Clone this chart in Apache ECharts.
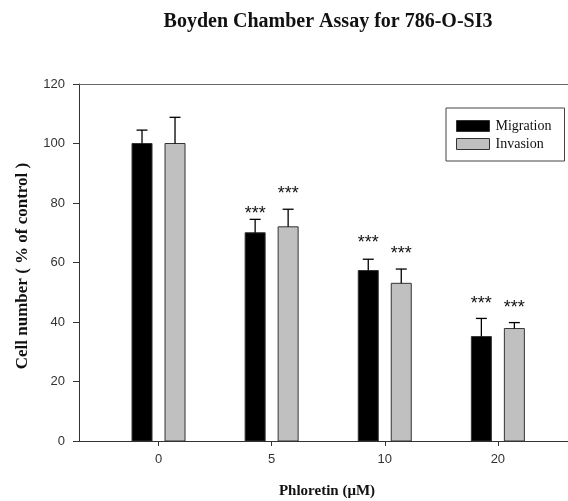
<!DOCTYPE html>
<html>
<head>
<meta charset="utf-8">
<style>
html,body{margin:0;padding:0;background:#fff;}
#chart{width:568px;height:501px;}
</style>
</head>
<body>
<div id="chart"></div>
<script src="https://cdn.jsdelivr.net/npm/echarts@6/dist/echarts.min.js"></script>
<script>
// data
var doseLabels = ['0', '5', '10', '20'];
var migration = [100, 70, 57.3, 35.1];
var migrationErr = [4.5, 4.5, 3.8, 6.1];
var invasion = [100, 72, 53, 37.8];
var invasionErr = [8.8, 5.9, 4.8, 2.0];
// height (in % of control) where the *** marks sit
var migrationStars = [null, 77.6, 67.9, 47.4];
var invasionStars = [null, 84.4, 64.1, 45.9];
var yTicks = [0, 20, 40, 60, 80, 100, 120];

function rows(means, errs, stars) {
    return means.map(function (m, i) {
        return [i, m, errs[i], stars[i] == null ? -1 : stars[i]];
    });
}

// bars + upper error bar + significance stars
function barRenderer(shift, fill) {
    return function (params, api) {
        var x = api.value(0);
        var top = api.coord([x, api.value(1)]);
        var base = api.coord([x, 0]);
        var errTop = api.coord([x, api.value(1) + api.value(2)]);
        var cx = top[0] + shift;
        var bw = 20;
        var kids = [{
            type: 'rect',
            shape: {x: cx - bw / 2, y: top[1], width: bw, height: base[1] - top[1]},
            style: {fill: fill, stroke: '#333', lineWidth: 1}
        }, {
            type: 'line',
            shape: {x1: cx, y1: top[1], x2: cx, y2: errTop[1]},
            style: {stroke: '#000', lineWidth: 1.3}
        }, {
            type: 'line',
            shape: {x1: cx - 5.5, y1: errTop[1], x2: cx + 5.5, y2: errTop[1]},
            style: {stroke: '#000', lineWidth: 1.3}
        }];
        var s = api.value(3);
        if (s >= 0) {
            var sp = api.coord([x, s]);
            kids.push({
                type: 'text',
                x: cx, y: sp[1] + 4,
                style: {
                    text: '***', fill: '#111',
                    font: '18px "Liberation Sans", Arial, sans-serif',
                    align: 'center', verticalAlign: 'middle'
                }
            });
        }
        return {type: 'group', children: kids};
    };
}

var chart = echarts.init(document.getElementById('chart'));

var option = {
    animation: false,
    backgroundColor: '#fff',
    grid: {left: 79, right: 0, top: 84, bottom: 60, outerBoundsMode: 'none'},
    legend: {
        orient: 'vertical',
        left: 446, top: 108,
        padding: [11, 13, 10, 10],
        itemGap: 4,
        itemWidth: 33, itemHeight: 11,
        icon: 'rect',
        borderColor: '#444', borderWidth: 1,
        backgroundColor: '#fff',
        itemStyle: {borderColor: '#333', borderWidth: 1},
        textStyle: {fontFamily: '"Liberation Serif", "Times New Roman", serif', fontSize: 14, color: '#111', padding: [0, 0, 0, 1]},
        data: ['Migration', 'Invasion']
    },
    xAxis: [{
        type: 'value',
        min: -0.703, max: 3.62,
        splitLine: {show: false},
        axisLine: {lineStyle: {color: '#333', width: 1}},
        axisTick: {length: 5, lineStyle: {color: '#333'}, customValues: [0, 1, 2, 3]},
        axisLabel: {
            customValues: [0, 1, 2, 3],
            margin: 12,
            fontSize: 13,
            color: '#333',
            fontFamily: '"Liberation Sans", Arial, sans-serif',
            formatter: function (v) { return doseLabels[Math.round(v)]; }
        }
    }, {
        type: 'value',
        position: 'top',
        min: -0.703, max: 3.62,
        splitLine: {show: false},
        axisLine: {show: true, onZero: false, lineStyle: {color: '#666', width: 1}},
        axisTick: {show: false},
        axisLabel: {show: false}
    }],
    yAxis: {
        type: 'value',
        min: 0, max: 120, interval: 20,
        splitLine: {show: false},
        axisLine: {show: true, onZero: false, lineStyle: {color: '#333', width: 1}},
        axisTick: {show: true, length: 6, lineStyle: {color: '#333'}},
        axisLabel: {
            margin: 14,
            fontSize: 13,
            color: '#333',
            fontFamily: '"Liberation Sans", Arial, sans-serif',
            customValues: yTicks
        }
    },
    series: [{
        name: 'Migration',
        type: 'custom',
        xAxisIndex: 0,
        itemStyle: {color: '#000'},
        renderItem: barRenderer(-16.5, '#000'),
        encode: {x: 0, y: [1]},
        data: rows(migration, migrationErr, migrationStars)
    }, {
        name: 'Invasion',
        type: 'custom',
        xAxisIndex: 0,
        itemStyle: {color: '#c0c0c0'},
        renderItem: barRenderer(16.5, '#c0c0c0'),
        encode: {x: 0, y: [1]},
        data: rows(invasion, invasionErr, invasionStars)
    }],
    graphic: [{
        type: 'text',
        x: 328, y: 22,
        style: {
            text: 'Boyden Chamber Assay for 786-O-SI3',
            font: 'bold 20px "Liberation Serif", "Times New Roman", serif',
            fill: '#111', align: 'center', verticalAlign: 'middle'
        }
    }, {
        type: 'text',
        x: 327, y: 491,
        style: {
            text: 'Phloretin (\u03bcM)',
            font: 'bold 15px "Liberation Serif", "Times New Roman", serif',
            fill: '#111', align: 'center', verticalAlign: 'middle'
        }
    }, {
        type: 'text',
        x: 23, y: 266,
        rotation: Math.PI / 2,
        style: {
            text: 'Cell number ( % of control )',
            font: 'bold 17px "Liberation Serif", "Times New Roman", serif',
            fill: '#111', align: 'center', verticalAlign: 'middle'
        }
    }]
};

chart.setOption(option);
</script>
</body>
</html>
